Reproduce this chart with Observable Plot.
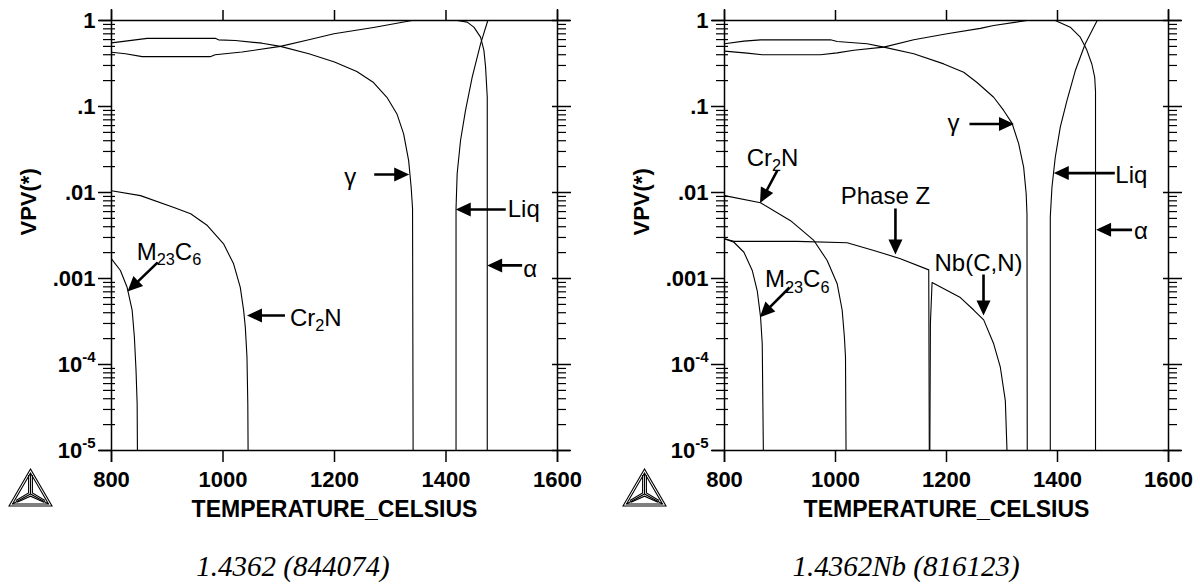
<!DOCTYPE html>
<html><head><meta charset="utf-8">
<script src="https://cdn.jsdelivr.net/npm/d3@7"></script>
<script src="https://cdn.jsdelivr.net/npm/@observablehq/plot@0.6"></script>
<style>
body{margin:0;background:#fff;width:1200px;height:585px;position:relative;overflow:hidden;font-family:"Liberation Sans",Arial,sans-serif}
.panel{position:absolute;top:0;width:600px;height:540px}
.caption{position:absolute;top:552px;font-family:"Liberation Serif","Times New Roman",serif;font-style:italic;font-size:29px;line-height:29px;white-space:nowrap;transform:translateX(-50%)}
.logo{position:absolute;top:468px;width:45px;height:39px}
</style></head><body>
<div id="p1" class="panel" style="left:0"></div>
<div id="p2" class="panel" style="left:600px"></div>
<div class="caption" id="cap1" style="left:293px"></div>
<div class="caption" id="cap2" style="left:906px"></div>
<svg class="logo" style="left:8px" viewBox="0 0 45 39"><g fill="none" stroke="#000" stroke-width="1.1" stroke-linejoin="miter"><path d="M1,38 L22.5,1 L44,38 Z"/><path d="M4.5,36 L22.5,5 L40.5,36 Z"/><path d="M22.5,5 L22.5,26 M4.5,36 L22.5,26 L40.5,36"/><path d="M20.6,7 L20.6,25 L8,32.5 M24.4,7 L24.4,25 L37,32.5 M9,34.3 L22.5,28.2 L36,34.3"/></g></svg>
<svg class="logo" style="left:622px" viewBox="0 0 45 39"><g fill="none" stroke="#000" stroke-width="1.1" stroke-linejoin="miter"><path d="M1,38 L22.5,1 L44,38 Z"/><path d="M4.5,36 L22.5,5 L40.5,36 Z"/><path d="M22.5,5 L22.5,26 M4.5,36 L22.5,26 L40.5,36"/><path d="M20.6,7 L20.6,25 L8,32.5 M24.4,7 L24.4,25 L37,32.5 M9,34.3 L22.5,28.2 L36,34.3"/></g></svg>
<script>
// ---------- data ----------
const captions = ["1.4362 (844074)", "1.4362Nb (816123)"];
const xTitle = "TEMPERATURE_CELSIUS";
const yTitle = "VPV(*)";
const xDomain = [800, 1600];
const yDomain = [1e-5, 1];
const xTicks = [800, 1000, 1200, 1400, 1600];
const yTicks = [1, 0.1, 0.01, 0.001, 1e-4, 1e-5];
const yTickLabels = ["1", ".1", ".01", ".001", "10^{-4}", "10^{-5}"];

// Panel 1 : 1.4362 (844074)   [temperature °C, volume fraction]
const p1_gamma = [[800,0.55],[825,0.575],[864,0.62],[986,0.62],[992,0.596],[1022,0.585],[1070,0.545],[1103,0.50],[1154,0.41],[1200,0.33],[1240,0.255],[1270,0.19],[1294,0.128],[1312,0.082],[1324,0.048],[1333,0.0235],[1337.5,0.0115],[1340,0.0065],[1341,1e-5]];
const p1_alpha = [[800,0.428],[825,0.41],[855,0.38],[977,0.38],[986,0.40],[1034,0.43],[1103,0.50],[1154,0.596],[1199,0.70],[1270,0.83],[1339,1.0],[1420,1.0],[1438,0.957],[1450,0.837],[1462,0.64],[1468,0.45],[1471,0.287],[1474,0.128],[1474,1e-5]];
const p1_liq = [[1418,1e-5],[1418,0.0065],[1420,0.0165],[1426,0.040],[1435,0.09],[1447,0.22],[1462,0.535],[1475,1.0]];
const p1_cr2n = [[800,0.0105],[852,0.0092],[912,0.0067],[942,0.00565],[972,0.00413],[1001,0.00253],[1019,0.00148],[1031,0.00079],[1037,0.000426],[1040,0.000272],[1043,0.000122],[1044.5,3.5e-5],[1045,1e-5]];
const p1_m23c6 = [[800,0.00169],[816,0.00124],[828,0.00079],[837,0.00043],[841,0.00021],[844,8.5e-5],[846,3.5e-5],[846.5,1e-5]];

// Panel 2 : 1.4362Nb (816123)
const p2_gamma = [[800,0.536],[835,0.575],[865,0.596],[991,0.596],[1003,0.57],[1057,0.536],[1087,0.49],[1141,0.41],[1195,0.313],[1231,0.25],[1255,0.19],[1285,0.128],[1303,0.09],[1318,0.064],[1330,0.037],[1339,0.0197],[1343.6,0.0096],[1345,0.0056],[1345.5,1e-5]];
const p2_alpha = [[800,0.44],[841,0.417],[868,0.40],[973,0.40],[1003,0.42],[1033,0.45],[1087,0.49],[1141,0.596],[1201,0.70],[1261,0.81],[1285,0.875],[1345,1.0],[1396,1.0],[1423,0.837],[1441,0.64],[1449,0.51],[1453,0.45],[1462,0.31],[1467,0.22],[1468.5,0.15],[1468.5,1e-5]];
const p2_liq = [[1387,1e-5],[1387,0.0052],[1390,0.0115],[1396,0.0257],[1405,0.0575],[1417,0.117],[1432,0.26],[1450,0.536],[1471.5,1.0]];
const p2_cr2n = [[800,0.0092],[865,0.0076],[919,0.0047],[961,0.00277],[985,0.00162],[1003,0.00087],[1012,0.00043],[1016,0.00021],[1018,0.000122],[1019,1e-5]];
const p2_m23c6 = [[800,0.0029],[817,0.00264],[835,0.00202],[850,0.00124],[859,0.00072],[865,0.000355],[868,0.000174],[870,1e-5]];
const p2_phaseZ = [[800,0.00289],[817,0.0027],[931,0.0027],[1021,0.0026],[1069,0.00212],[1117,0.0017],[1168,0.00126],[1169,1e-5]];
const p2_nbcn = [[1170,1e-5],[1171,0.0003],[1174,0.0009],[1225,0.0006],[1249,0.00043],[1267,0.00033],[1285,0.000174],[1297,9.3e-5],[1306,3.8e-5],[1309,1e-5]];

// Annotations: label, arrow-tip temperature, arrow-tip value
const p1_annLabel = ["γ", "Liq", "α", "Cr_{2}N", "M_{23}C_{6}"];
const p1_annT = [1334, 1417.5, 1473.8, 1043, 828.7];
const p1_annV = [0.0162, 0.00634, 0.00142, 0.000372, 0.000706];
const p2_annLabel = ["γ", "Liq", "α", "Cr_{2}N", "Phase Z", "Nb(C,N)", "M_{23}C_{6}"];
const p2_annT = [1321.6, 1393.3, 1469.5, 864, 1108, 1266.7, 863.6];
const p2_annV = [0.0626, 0.0168, 0.00368, 0.00755, 0.0019, 0.000372, 0.000355];

// ---------- styling (pixels) ----------
const p1_annStyle = [
  {rot: 90, len: 35, dx: -59, dy: 2.5, anchor: "middle"},
  {rot: 270, len: 50, dx: 52, dy: 0, anchor: "start"},
  {rot: 270, len: 35, dx: 36, dy: 4, anchor: "start"},
  {rot: 270, len: 38, dx: 43, dy: 2.5, anchor: "start"},
  {rot: 226, len: 42, dx: 41.5, dy: -39, anchor: "middle"}
];
const p2_annStyle = [
  {rot: 90, len: 44.5, dx: -60.5, dy: -1, anchor: "middle"},
  {rot: 270, len: 61, dx: 61.5, dy: 1.8, anchor: "start"},
  {rot: 270, len: 36, dx: 38, dy: 1, anchor: "start"},
  {rot: 208, len: 37, dx: 12.5, dy: -45, anchor: "middle"},
  {rot: 180, len: 46, dx: -10, dy: -58.5, anchor: "middle"},
  {rot: 180, len: 41, dx: -5, dy: -52.5, anchor: "middle"},
  {rot: 225, len: 42, dx: 37.4, dy: -37.4, anchor: "middle"}
];

const minorTicks = [];
for (let e = -5; e < 0; e++) for (let k = 2; k <= 9; k++) minorTicks.push(k * Math.pow(10, e));

const arrowShape = {
  draw(ctx, l) {
    const hl = 15, hw = 7, sw = 1.3;
    ctx.moveTo(-sw, 0);
    ctx.lineTo(-sw, -(l - hl));
    ctx.lineTo(-hw, -(l - hl));
    ctx.lineTo(0, -l);
    ctx.lineTo(hw, -(l - hl));
    ctx.lineTo(sw, -(l - hl));
    ctx.lineTo(sw, 0);
    ctx.closePath();
  }
};

function rich(svg) {
  const NS = "http://www.w3.org/2000/svg";
  d3.select(svg).selectAll("text").each(function () {
    const t = this.textContent;
    if (!/[_^]\{/.test(t)) return;
    const fs = parseFloat(getComputedStyle(this).fontSize) || 20;
    const parts = t.split(/([_^]\{[^}]*\})/).filter(s => s.length);
    while (this.firstChild) this.removeChild(this.firstChild);
    let shift = 0;
    for (const p of parts) {
      const ts = document.createElementNS(NS, "tspan");
      const m = p.match(/^([_^])\{([^}]*)\}$/);
      let target = 0;
      if (m) {
        ts.textContent = m[2];
        ts.setAttribute("font-size", (fs * 0.68).toFixed(1));
        target = m[1] === "_" ? fs * 0.22 : -fs * 0.45;
      } else ts.textContent = p;
      if (target !== shift) { ts.setAttribute("dy", (target - shift).toFixed(1)); shift = target; }
      this.appendChild(ts);
    }
  });
}

function panel(el, cfg) {
  const lineOpts = {x: d => d[0], y: d => d[1], stroke: "black", strokeWidth: 1.1};
  const anns = cfg.labels.map((label, i) => ({label, T: cfg.T[i], v: cfg.V[i], s: cfg.style[i]}));
  const noText = () => "";
  const marks = [
    Plot.ruleY(yDomain, {stroke: "black", strokeWidth: 1.5, insetLeft: -12, insetRight: -13}),
    Plot.ruleX(xDomain, {stroke: "black", strokeWidth: 1.5, insetTop: -11, insetBottom: -12}),
    Plot.axisX({anchor: "bottom", ticks: xTicks, tickSize: 12, tickPadding: 9, tickFormat: d => String(d), label: null, strokeWidth: 1.5, fontSize: 22, fontWeight: "bold"}),
    Plot.axisX({anchor: "top", ticks: xTicks, tickSize: 11, tickFormat: noText, label: null, strokeWidth: 1.5}),
    Plot.axisY({anchor: "left", ticks: yTicks, tickSize: 13, tickPadding: 3, tickFormat: d => yTickLabels[yTicks.indexOf(d)], label: null, strokeWidth: 1.5, fontSize: 22, fontWeight: "bold"}),
    Plot.axisY({anchor: "left", ticks: minorTicks, tickSize: 8, tickFormat: noText, label: null, strokeWidth: 1.2}),
    Plot.axisY({anchor: "left", ticks: minorTicks, tickSize: -4, tickFormat: noText, label: null, strokeWidth: 1.2}),
    Plot.axisY({anchor: "right", ticks: yTicks, tickSize: 13, tickFormat: noText, label: null, strokeWidth: 1.5}),
    Plot.axisY({anchor: "right", ticks: yTicks, tickSize: -6, tickFormat: noText, label: null, strokeWidth: 1.5}),
    Plot.axisY({anchor: "right", ticks: minorTicks, tickSize: 8, tickFormat: noText, label: null, strokeWidth: 1.2}),
    ...cfg.series.map(s => Plot.line(s, lineOpts)),
    ...anns.map(a => Plot.vector([a], {x: "T", y: "v", length: a.s.len, rotate: a.s.rot, anchor: "end", shape: arrowShape, fill: "black", stroke: "none"})),
    ...anns.map(a => Plot.text([a], {x: "T", y: "v", text: "label", dx: a.s.dx, dy: a.s.dy, textAnchor: a.s.anchor, fontSize: 24, fontWeight: "normal", fill: "black"})),
    Plot.text([xTitle], {frameAnchor: "bottom", text: d => d, dy: 66, fontSize: 23, fontWeight: "bold", fill: "black"}),
    Plot.text([yTitle], {frameAnchor: "left", text: d => d, dx: -82.5, rotate: -90, fontSize: 22, fontWeight: "bold", fill: "black"})
  ];
  const svg = Plot.plot({
    width: 600, height: 540,
    marginLeft: cfg.ml, marginRight: cfg.mr, marginTop: 20, marginBottom: 90,
    x: {domain: xDomain},
    y: {type: "log", domain: yDomain},
    style: {fontFamily: "'Liberation Sans', Arial, sans-serif", fontSize: "20px", background: "white", overflow: "visible", color: "black"},
    marks
  });
  el.appendChild(svg);
  rich(svg);
}

panel(document.getElementById("p1"), {
  ml: 111, mr: 43,
  series: [p1_gamma, p1_alpha, p1_liq, p1_cr2n, p1_m23c6],
  labels: p1_annLabel, T: p1_annT, V: p1_annV, style: p1_annStyle
});
panel(document.getElementById("p2"), {
  ml: 124, mr: 32,
  series: [p2_gamma, p2_alpha, p2_liq, p2_cr2n, p2_m23c6, p2_phaseZ, p2_nbcn],
  labels: p2_annLabel, T: p2_annT, V: p2_annV, style: p2_annStyle
});
document.getElementById("cap1").textContent = captions[0];
document.getElementById("cap2").textContent = captions[1];
</script>
</body></html>
